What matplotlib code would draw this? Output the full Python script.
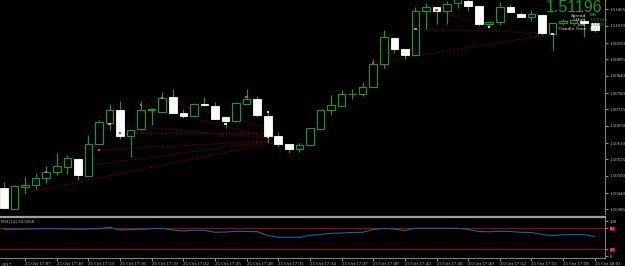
import matplotlib
matplotlib.use('Agg')
import matplotlib.pyplot as plt
import numpy as np

plt.rcParams['font.family'] = ['Liberation Serif', 'DejaVu Sans']

# M1 candles, 25 Oct 17:05 .. 18:01
opens = [1.50458, 1.50386, 1.50461, 1.50468, 1.50492, 1.50512, 1.50529, 1.50556, 1.50499, 1.50607,
         1.50679, 1.50723, 1.50635, 1.50658, 1.50723, 1.50716, 1.50767, 1.50713, 1.50703, 1.50743,
         1.50737, 1.50699, 1.50686, 1.50743, 1.50760, 1.50703, 1.50635, 1.50607, 1.50590, 1.50604,
         1.50658, 1.50723, 1.50737, 1.50777, 1.50777, 1.50801, 1.50879, 1.50968, 1.50930, 1.50910,
         1.51060, 1.51073, 1.51060, 1.51087, 1.51094, 1.51077, 1.51015, 1.51022, 1.51073, 1.51049,
         1.51039, 1.51046, 1.50981, 1.51019, 1.51019, 1.51026, 1.51019]
highs = [1.50478, 1.50468, 1.50495, 1.50509, 1.50533, 1.50577, 1.50570, 1.50560, 1.50638, 1.50689,
         1.50743, 1.50754, 1.50655, 1.50754, 1.50730, 1.50784, 1.50794, 1.50726, 1.50747, 1.50767,
         1.50750, 1.50699, 1.50750, 1.50794, 1.50771, 1.50720, 1.50648, 1.50607, 1.50611, 1.50662,
         1.50723, 1.50774, 1.50791, 1.50794, 1.50818, 1.50896, 1.50995, 1.50971, 1.50930, 1.51073,
         1.51087, 1.51073, 1.51094, 1.51117, 1.51107, 1.51077, 1.51026, 1.51090, 1.51083, 1.51056,
         1.51063, 1.51049, 1.51019, 1.51032, 1.51036, 1.51036, 1.51022]
lows = [1.50386, 1.50386, 1.50437, 1.50454, 1.50475, 1.50502, 1.50505, 1.50485, 1.50499, 1.50607,
        1.50655, 1.50624, 1.50563, 1.50655, 1.50672, 1.50716, 1.50713, 1.50696, 1.50703, 1.50740,
        1.50692, 1.50662, 1.50682, 1.50743, 1.50699, 1.50611, 1.50597, 1.50577, 1.50580, 1.50604,
        1.50658, 1.50706, 1.50737, 1.50760, 1.50771, 1.50801, 1.50866, 1.50917, 1.50896, 1.50910,
        1.50998, 1.51015, 1.51015, 1.51070, 1.51060, 1.51009, 1.51005, 1.51012, 1.51056, 1.51039,
        1.51026, 1.50978, 1.50924, 1.51012, 1.51012, 1.50971, 1.50988]
closes = [1.50390, 1.50465, 1.50468, 1.50492, 1.50512, 1.50533, 1.50560, 1.50502, 1.50607, 1.50682,
          1.50723, 1.50635, 1.50655, 1.50723, 1.50726, 1.50764, 1.50713, 1.50703, 1.50743, 1.50740,
          1.50692, 1.50686, 1.50747, 1.50760, 1.50706, 1.50635, 1.50607, 1.50590, 1.50604, 1.50662,
          1.50723, 1.50740, 1.50777, 1.50778, 1.50801, 1.50879, 1.50971, 1.50930, 1.50910, 1.51060,
          1.51073, 1.51060, 1.51083, 1.51104, 1.51077, 1.51015, 1.51022, 1.51073, 1.51056, 1.51039,
          1.51049, 1.50985, 1.51019, 1.51026, 1.51029, 1.51019, 1.50995]

rsi = [77.1, 77.1, 78.0, 78.6, 78.9, 78.9, 78.0, 77.1, 78.0, 78.9,
       82.9, 75.1, 76.6, 77.1, 78.9, 80.0, 75.1, 72.3, 74.3, 74.3,
       68.6, 69.4, 71.4, 70.9, 70.3, 59.4, 54.3, 54.3, 54.3, 60.0,
       62.3, 65.7, 66.6, 68.0, 68.6, 76.6, 79.4, 78.0, 73.7, 80.0,
       80.0, 80.0, 80.0, 80.0, 76.6, 70.9, 70.0, 71.4, 70.9, 68.6,
       68.0, 62.3, 59.4, 61.7, 61.7, 61.7, 57.1]
rsi_levels = [80, 20]

# dotted trend lines: start bar, start price, end bar, end price
tl_x0 = [0, 7.7, 11, 10, 12.9, 15, 8.9, 23, 35, 39, 41]
tl_p0 = [1.50427, 1.50533, 1.50646, 1.50675, 1.50740, 1.50757, 1.50587, 1.50767, 1.50883, 1.50998, 1.51063]
tl_x1 = [25.5, 25.5, 25.2, 25, 25, 25, 25.2, 25, 52, 52, 46]
tl_p1 = [1.50611, 1.50618, 1.50646, 1.50628, 1.50631, 1.50662, 1.50618, 1.50713, 1.50981, 1.50985, 1.51005]

# small arrow marks
mk_x = [4, 9, 10, 11, 13, 15, 23, 21, 25, 25, 35, 39, 41, 46, 52]
mk_p = [1.50512, 1.50587, 1.50675, 1.50645, 1.50740, 1.50764, 1.50767, 1.50675, 1.50716, 1.50631,
        1.50883, 1.50998, 1.51063, 1.51005, 1.50981]
mk_c = ['#ff5050', '#ff3030', '#ff9090', '#ff3030', '#ff3030', '#ff7070', '#ff3030', '#f0e060',
        '#f0e060', '#f0e060', '#ff3030', '#ff7070', '#ff3030', '#f0e060', '#f0e060']

price_ticks = [1.50385, 1.50440, 1.50500, 1.50555, 1.50610, 1.50670, 1.50725, 1.50780, 1.50840,
               1.50895, 1.50950, 1.51010, 1.51065]
time_idx = [2, 5, 8, 11, 14, 17, 20, 23, 26, 29, 32, 35, 38, 41, 44, 47, 50, 53, 56]
time_labels = ['25 Oct 17:07', '25 Oct 17:10', '25 Oct 17:13', '25 Oct 17:16', '25 Oct 17:19',
               '25 Oct 17:22', '25 Oct 17:25', '25 Oct 17:28', '25 Oct 17:31', '25 Oct 17:34',
               '25 Oct 17:37', '25 Oct 17:40', '25 Oct 17:43', '25 Oct 17:46', '25 Oct 17:49',
               '25 Oct 17:52', '25 Oct 17:55', '25 Oct 17:58', '25 Oct 18:01']

GREEN = '#14a014'
GRAY = '#c8c8c8'

o = np.array(opens); h = np.array(highs); l = np.array(lows); c = np.array(closes)
x = np.arange(len(o))
up = c >= o

fig = plt.figure(figsize=(6.25, 2.66), dpi=100, facecolor='black')
ax = fig.add_axes([0, 0.1955, 0.968, 0.8045], facecolor='black')
ax2 = fig.add_axes([0, 0.0301, 0.968, 0.1541], facecolor='black')

# trend lines under candles
for i in range(len(tl_x0)):
    ax.plot([tl_x0[i], tl_x1[i]], [tl_p0[i], tl_p1[i]], color='#8b0000', lw=0.8,
            ls=(0, (1, 1.5)), zorder=1)

ax.vlines(x, l, h, color=GREEN, lw=0.8, zorder=2)
bot = np.minimum(o, c)
hgt = np.maximum(np.abs(c - o), 0.000002)
ax.bar(x[up], hgt[up], bottom=bot[up], width=0.72, facecolor='black', edgecolor=GREEN, lw=0.8, zorder=3)
ax.bar(x[~up], hgt[~up], bottom=bot[~up], width=0.72, facecolor='white', edgecolor='white', lw=0.6, zorder=3)
ax.scatter(mk_x, mk_p, c=mk_c, marker='s', s=3, lw=0, zorder=4)

ax.set_xlim(-0.38, 56.97)
ax.set_ylim(1.503694, 1.51097)
ax.set_xticks([])
ax.yaxis.tick_right()
ax.set_yticks(price_ticks)
ax.set_yticklabels(['%.5f' % v for v in price_ticks])
ax.tick_params(axis='y', colors=GRAY, labelsize=3.5, length=2, width=0.5, pad=1.5)
for s in ['top', 'left', 'bottom']:
    ax.spines[s].set_visible(False)
ax.spines['right'].set_color('#808080')
ax.spines['right'].set_linewidth(0.8)

# info overlay
fx = lambda px: px / 625
fy = lambda py: 1 - py / 266
fig.text(fx(602), fy(12), '1.51196', color=GREEN, fontsize=11.5, family='Liberation Sans',
         ha='right', va='baseline')
rows = [('Spread', '0.6', '#e8c800'), ('High', '1.51133', GREEN),
        ('Low', '1.50851', GREEN), ('Candle Time', '0:21', '#e8c800')]
for k, (name, val, col) in enumerate(rows):
    yy = fy(15.5 + 4.6 * k)
    fig.text(fx(586), yy, name, color='#e0e0e0', fontsize=3.2, family='DejaVu Sans', ha='right', va='center')
    fig.text(fx(590), yy, val, color=col, fontsize=3.2, family='DejaVu Sans', ha='left', va='center')

# indicator panel
ax2.plot(x, rsi, color='#1c5fb0', lw=0.8, zorder=3)
for lv in rsi_levels:
    ax2.axhline(lv, color='#b00000', lw=0.7, zorder=2)
ax2.set_xlim(-0.38, 56.97)
ax2.set_ylim(-4.9, 112.3)
ax2.yaxis.tick_right()
ax2.set_yticks([0, 20, 80, 100])
ylabs = ax2.set_yticklabels(['0', '20', '80', '100'])
for t in ylabs[1:3]:
    t.set_bbox(dict(facecolor='#d00000', edgecolor='none', pad=0.3))
    t.set_color('white')
ax2.tick_params(axis='y', colors=GRAY, labelsize=3.5, length=2, width=0.5, pad=1.5)
ax2.set_xticks(time_idx)
xlabs = ax2.set_xticklabels(time_labels)
for t in xlabs:
    t.set_ha('left')
ax2.tick_params(axis='x', colors=GRAY, labelsize=3.5, length=2.5, width=0.5, pad=0.5)
ax2.text(-1.6, -0.13, '25 Oct 2017', transform=ax2.get_xaxis_transform(), color=GRAY,
         fontsize=3.5, ha='left', va='top', clip_on=False)
ax2.text(0.002, 0.9, 'RSI(14) 50.9268', transform=ax2.transAxes, color=GRAY, fontsize=3.5,
         ha='left', va='center')
ax2.spines['left'].set_visible(False)
ax2.spines['top'].set_color('#a0a0a0')
ax2.spines['top'].set_linewidth(1.6)
ax2.spines['bottom'].set_color('#808080')
ax2.spines['bottom'].set_linewidth(0.8)
ax2.spines['right'].set_color('#808080')
ax2.spines['right'].set_linewidth(0.8)

fig.savefig('out.png', dpi=100, facecolor='black')
